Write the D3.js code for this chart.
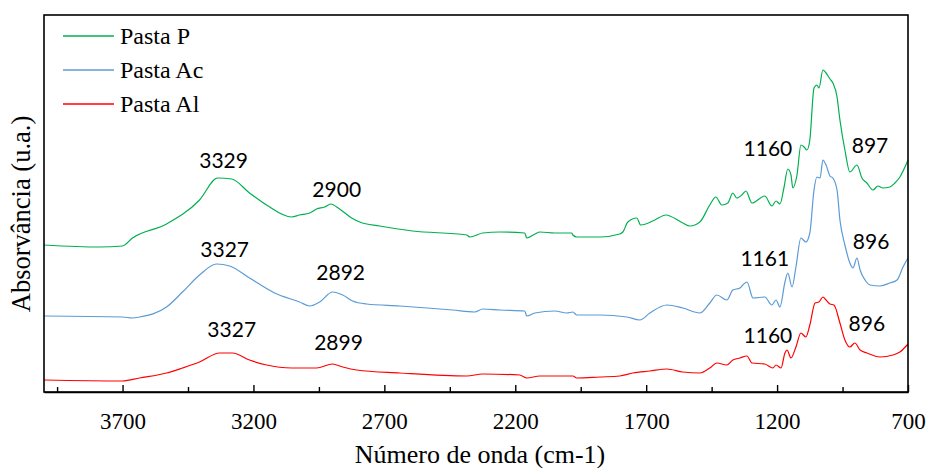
<!DOCTYPE html>
<html>
<head>
<meta charset="utf-8">
<script src="https://cdn.jsdelivr.net/npm/d3@7"></script>
<style>
  html, body { margin: 0; padding: 0; background: #fff; }
  svg { display: block; }
</style>
</head>
<body>
<svg id="chart" width="927" height="468"></svg>
<script>
// ---------- DATA ----------
const seriesNames = ["Pasta P", "Pasta Ac", "Pasta Al"];

// Pasta P (green): wavenumber (cm-1) and absorbance (a.u.)
const pastaPWave = [4000,3788,3700,3662,3532,3406,3337,3283,3215,3150,3054,3024,2985,2959,2928,2905,2871,2825,2794,2718,2592,2385,2374,2324,2259,2164,2156,2125,2106,2049,1985,1980,1965,1877,1801,1789,1770,1736,1721,1667,1625,1560,1533,1495,1457,1434,1411,1388,1369,1354,1331,1319,1296,1247,1220,1204,1189,1174,1159,1147,1140,1124,1109,1097,1086,1075,1059,1048,1040,1025,1013,998,987,971,960,941,922,895,876,857,834,815,796,769,750,731,700];
const pastaPAbs  = [1.47,1.45,1.46,1.54,1.68,1.92,2.14,2.13,1.99,1.87,1.75,1.77,1.79,1.83,1.85,1.88,1.83,1.74,1.70,1.66,1.61,1.57,1.55,1.59,1.60,1.59,1.54,1.58,1.60,1.59,1.59,1.57,1.55,1.55,1.58,1.60,1.70,1.74,1.67,1.72,1.77,1.69,1.66,1.70,1.87,1.95,1.87,1.89,1.99,1.94,1.98,2.01,1.89,1.96,1.86,1.91,1.88,2.04,2.23,2.17,2.04,2.17,2.47,2.45,2.42,2.52,3.04,3.07,3.04,3.22,3.19,3.13,3.09,2.95,2.72,2.42,2.20,2.27,2.14,2.09,2.02,2.06,2.04,2.05,2.09,2.15,2.32];

// Pasta Ac (blue)
const pastaAcWave = [4000,3700,3662,3635,3532,3471,3406,3341,3291,3215,3119,3024,2985,2947,2898,2859,2821,2768,2641,2439,2355,2324,2259,2164,2156,2125,2049,2003,1980,1965,1877,1774,1724,1686,1621,1560,1495,1457,1430,1392,1369,1342,1331,1315,1292,1247,1220,1204,1189,1170,1159,1143,1128,1109,1090,1075,1059,1048,1036,1025,1013,998,987,971,960,941,922,910,895,883,864,845,807,769,742,719,700];
const pastaAcAbs  = [0.76,0.75,0.74,0.75,0.85,1.00,1.17,1.28,1.26,1.14,0.99,0.90,0.86,0.90,1.00,0.97,0.91,0.88,0.86,0.82,0.80,0.83,0.82,0.81,0.76,0.79,0.81,0.79,0.80,0.77,0.77,0.75,0.72,0.79,0.87,0.84,0.79,0.89,0.97,0.92,1.02,1.04,1.07,1.10,0.94,0.95,0.87,0.92,0.85,1.10,1.19,1.05,1.25,1.54,1.50,1.59,2.02,2.15,2.14,2.32,2.27,2.16,2.14,2.02,1.72,1.47,1.29,1.24,1.34,1.22,1.12,1.07,1.06,1.09,1.12,1.25,1.34];

// Pasta Al (red)
const pastaAlWave = [4000,3700,3635,3532,3471,3406,3329,3280,3215,3150,3054,2959,2898,2859,2806,2641,2385,2324,2183,2156,2106,1980,1965,1877,1801,1751,1686,1621,1560,1495,1457,1430,1392,1369,1342,1315,1296,1247,1216,1204,1185,1170,1162,1147,1128,1109,1090,1075,1055,1040,1025,1013,998,983,960,941,922,903,883,857,807,757,731,700];
const pastaAlAbs  = [0.12,0.11,0.14,0.19,0.24,0.30,0.39,0.39,0.32,0.27,0.24,0.24,0.28,0.25,0.22,0.19,0.16,0.18,0.17,0.14,0.16,0.16,0.14,0.15,0.16,0.19,0.21,0.23,0.20,0.19,0.24,0.29,0.27,0.32,0.34,0.36,0.29,0.28,0.24,0.27,0.24,0.39,0.42,0.34,0.45,0.59,0.55,0.67,0.89,0.90,0.95,0.92,0.88,0.87,0.69,0.52,0.45,0.49,0.42,0.39,0.35,0.37,0.40,0.48];

// Peak annotations: label, wavenumber position, absorbance position
const annotLabels = ["3329","2900","1160","897","3327","2892","1161","896","3327","2899","1160","896"];
const annotWave   = [3314,2882,1235,845,3310,2867,1247,841,3283,2875,1235,857];
const annotAbs    = [2.24,1.95,2.36,2.39,1.35,1.12,1.26,1.43,0.55,0.42,0.49,0.61];

// Axis ticks
const majorTicks = [3700,3200,2700,2200,1700,1200,700];
const minorTicks = [3950,3450,2950,2450,1950,1450,950];

// ---------- LAYOUT ----------
const colors = ["#00b050", "#5b9bd5", "#ff0000"];
const mLeft = 44, mRight = 908, mTop = 15, mBottom = 392;

const svg = d3.select("#chart");
const x = d3.scaleLinear().domain([4000, 700]).range([mLeft, mRight]);
const y = d3.scaleLinear().domain([0, 3.77]).range([mBottom, mTop]);

const series = [
  pastaPWave.map((w, i) => [w, pastaPAbs[i]]),
  pastaAcWave.map((w, i) => [w, pastaAcAbs[i]]),
  pastaAlWave.map((w, i) => [w, pastaAlAbs[i]])
];

const line = d3.line()
  .x(d => x(d[0]))
  .y(d => y(d[1]))
  .curve(d3.curveMonotoneX);

svg.append("g").selectAll("path")
  .data(series)
  .join("path")
  .attr("d", line)
  .attr("fill", "none")
  .attr("stroke", (d, i) => colors[i])
  .attr("stroke-width", 1.2);

// Frame
svg.append("rect")
  .attr("x", mLeft).attr("y", mTop)
  .attr("width", mRight - mLeft).attr("height", mBottom - mTop)
  .attr("fill", "none").attr("stroke", "#000").attr("stroke-width", 1.6);

// X axis major ticks
const xAxis = d3.axisBottom(x)
  .tickValues(majorTicks)
  .tickFormat(d3.format("d"))
  .tickSizeInner(-7)
  .tickSizeOuter(0)
  .tickPadding(21);
const gx = svg.append("g").attr("transform", `translate(0,${mBottom})`).call(xAxis);
gx.select(".domain").attr("stroke", "#000").attr("stroke-width", 1.6);
gx.selectAll(".tick line").attr("stroke", "#000").attr("stroke-width", 1.4);
gx.selectAll(".tick text")
  .attr("font-family", "'Liberation Serif', 'Times New Roman', serif")
  .attr("font-size", 23).attr("fill", "#000");

// X axis minor ticks
const xMinor = d3.axisBottom(x)
  .tickValues(minorTicks)
  .tickFormat("")
  .tickSizeInner(-5)
  .tickSizeOuter(0);
const gxm = svg.append("g").attr("transform", `translate(0,${mBottom})`).call(xMinor);
gxm.select(".domain").remove();
gxm.selectAll(".tick line").attr("stroke", "#000").attr("stroke-width", 1.4);

// Axis titles
svg.append("text")
  .attr("x", 480).attr("y", 463)
  .attr("text-anchor", "middle")
  .attr("font-family", "'Liberation Serif', 'Times New Roman', serif")
  .attr("font-size", 26)
  .text("Número de onda (cm-1)");

svg.append("text")
  .attr("transform", "translate(30,214) rotate(-90)")
  .attr("text-anchor", "middle")
  .attr("font-family", "'Liberation Serif', 'Times New Roman', serif")
  .attr("font-size", 26.5)
  .text("Absorvância (u.a.)");

// Annotations
svg.append("g").selectAll("text")
  .data(annotLabels)
  .join("text")
  .attr("x", (d, i) => x(annotWave[i]))
  .attr("y", (d, i) => y(annotAbs[i]))
  .attr("text-anchor", "middle")
  .attr("font-family", "Lato, 'Open Sans', sans-serif")
  .attr("font-size", 21)
  .attr("fill", "#000")
  .text(d => d);

// Legend
const lg = svg.append("g").selectAll("g")
  .data(seriesNames)
  .join("g")
  .attr("transform", (d, i) => `translate(63,${36 + i * 34})`);
lg.append("line")
  .attr("x1", 0).attr("x2", 51).attr("y1", 0).attr("y2", 0)
  .attr("stroke", (d, i) => colors[i]).attr("stroke-width", 1.3);
lg.append("text")
  .attr("x", 57).attr("y", 8)
  .attr("font-family", "'Liberation Serif', 'Times New Roman', serif")
  .attr("font-size", 24)
  .text(d => d);
</script>
</body>
</html>
